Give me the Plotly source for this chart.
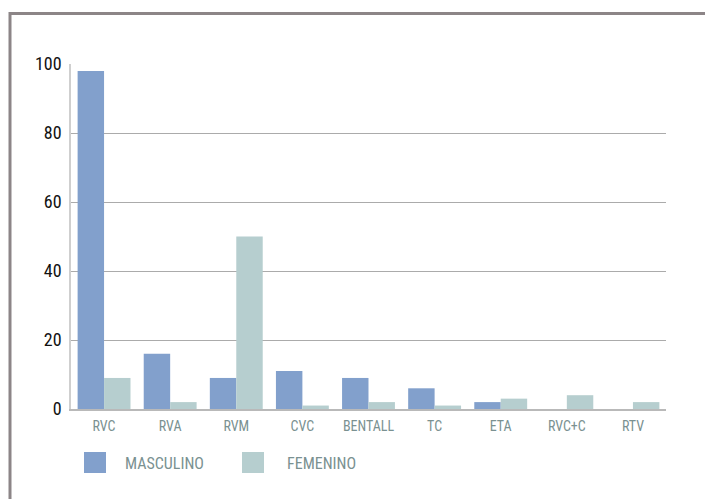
import plotly.graph_objects as go

# Procedures and counts by sex
procedimientos = ["RVC", "RVA", "RVM", "CVC", "BENTALL", "TC", "ETA", "RVC+C", "RTV"]
masculino = [98, 16, 9, 11, 9, 6, 2, 0, 0]
femenino = [9, 2, 50, 1, 2, 1, 3, 4, 2]
y_ticks = [0, 20, 40, 60, 80, 100]

COLOR_M = "#82a0cc"
COLOR_F = "#b6cecf"
LABEL_COLOR = "#7a9191"
FONT = "Roboto Condensed, Liberation Sans, sans-serif"

W, H = 705, 499
ML, MR, MT, MB = 71, 39, 64, 90
PW, PH = W - ML - MR, H - MT - MB


def px_x(px):
    return (px - ML) / PW


def px_y(py):
    return (H - MB - py) / PH


fig = go.Figure()
fig.add_trace(go.Bar(x=procedimientos, y=masculino, name="MASCULINO",
                     marker=dict(color=COLOR_M, line=dict(width=0))))
fig.add_trace(go.Bar(x=procedimientos, y=femenino, name="FEMENINO",
                     marker=dict(color=COLOR_F, line=dict(width=0))))

shapes = []
# outer frame (top and left edges)
shapes.append(dict(type="path", xref="paper", yref="paper",
                   path=f"M {px_x(10)},{px_y(520)} L {px_x(10)},{px_y(13.5)} L {px_x(720)},{px_y(13.5)}",
                   line=dict(color="#8c8587", width=3)))
# legend swatches
shapes.append(dict(type="rect", xref="paper", yref="paper",
                   x0=px_x(84), x1=px_x(106), y0=px_y(473), y1=px_y(452),
                   fillcolor=COLOR_M, line=dict(width=0)))
shapes.append(dict(type="rect", xref="paper", yref="paper",
                   x0=px_x(242), x1=px_x(264), y0=px_y(473), y1=px_y(452),
                   fillcolor=COLOR_F, line=dict(width=0)))

annotations = [
    dict(text="MASCULINO", xref="paper", yref="paper", x=px_x(123), y=px_y(463),
         xanchor="left", yanchor="middle", showarrow=False,
         font=dict(family=FONT, size=16, color=LABEL_COLOR)),
    dict(text="FEMENINO", xref="paper", yref="paper", x=px_x(285), y=px_y(463),
         xanchor="left", yanchor="middle", showarrow=False,
         font=dict(family=FONT, size=16, color=LABEL_COLOR)),
]

fig.update_layout(
    width=W, height=H,
    margin=dict(l=ML, r=MR, t=MT, b=MB),
    paper_bgcolor="white", plot_bgcolor="white",
    barmode="group", bargap=0.2, bargroupgap=0,
    showlegend=False,
    shapes=shapes,
    annotations=annotations,
    font=dict(family=FONT),
)
fig.update_xaxes(
    showgrid=False, showline=True, linecolor="#b9b9b9", linewidth=2,
    ticks="", tickfont=dict(family=FONT, size=14, color=LABEL_COLOR),
    ticklabelstandoff=3,
)
fig.update_yaxes(
    range=[0, 100], tickvals=y_ticks,
    showgrid=True, gridcolor="#ababab", gridwidth=1.3,
    showline=True, linecolor="#cfcfcf", linewidth=1.5,
    zeroline=False, ticks="",
    tickfont=dict(family=FONT, size=18, color="#111111"),
    ticklabelstandoff=4,
)

fig.write_html("out.html")
